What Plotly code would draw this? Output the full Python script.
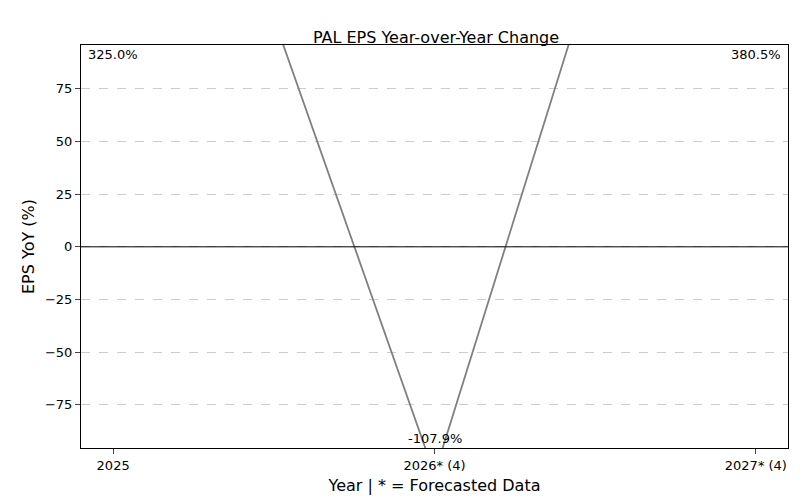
import plotly.graph_objects as go

years = ["2025", "2026* (4)", "2027* (4)"]
eps_yoy = [325.0, -107.9, 380.5]
y_ticks = [-75, -50, -25, 0, 25, 50, 75]

y_lo, y_hi = -95.5, 95.8

fig = go.Figure()
fig.add_trace(go.Scatter(
    x=list(range(len(years))), y=eps_yoy, mode="lines",
    line=dict(color="gray", width=1.8), cliponaxis=True, showlegend=False))

# labels clamped to the visible range, like the reference
for i, v in enumerate(eps_yoy):
    clamped = min(max(v, y_lo), y_hi)
    fig.add_annotation(x=i, y=clamped, text=f"{v:.1f}%", showarrow=False,
                       yanchor="top" if v > 0 else "bottom",
                       font=dict(size=13, color="black"))

fig.add_hline(y=0, line=dict(color="black", width=1))

fig.update_layout(
    width=800, height=500,
    margin=dict(l=73, r=20, t=37, b=60),
    plot_bgcolor="white", paper_bgcolor="white",
    font=dict(family="DejaVu Sans", size=13, color="black"),
    title=dict(text="PAL EPS Year-over-Year Change", x=0.535, y=0.953,
               xanchor="center", font=dict(size=16)),
    xaxis=dict(range=[-0.1, 2.1], tickvals=list(range(len(years))), ticktext=years,
               showgrid=False, showline=True, linecolor="black", mirror=True,
               ticks="outside", zeroline=False, automargin=False,
               title=dict(text="Year | * = Forecasted Data", standoff=8)),
    yaxis=dict(range=[y_lo, y_hi], tickvals=y_ticks, showgrid=True,
               gridcolor="#cccccc", griddash="dash", showline=True,
               linecolor="black", mirror=True, ticks="outside", zeroline=False,
               automargin=False,
               title=dict(text="EPS YoY (%)", standoff=6)),
)

fig.write_html("out.html")
